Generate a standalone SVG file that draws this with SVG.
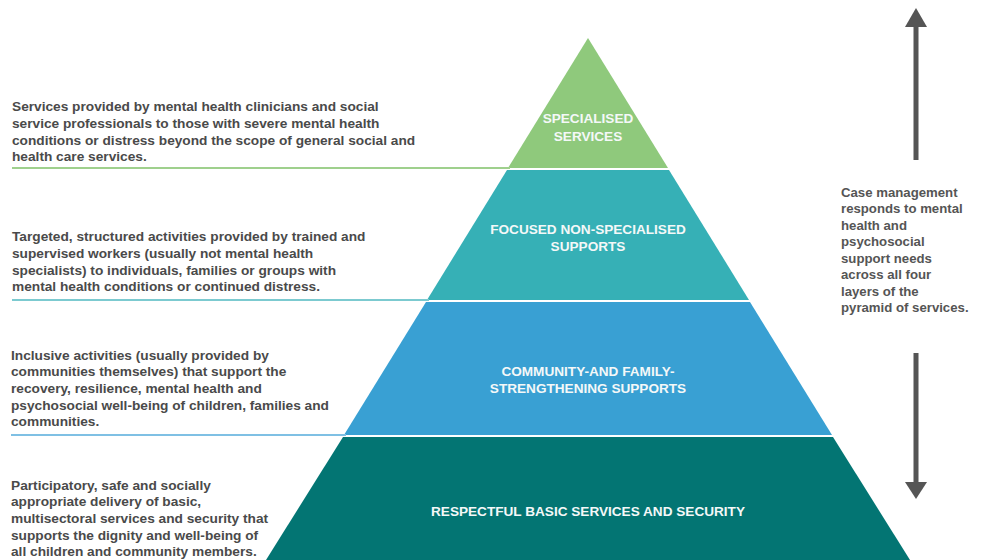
<svg xmlns="http://www.w3.org/2000/svg" width="983" height="560" viewBox="0 0 983 560">
  <style>
    .desc { font-family: "Liberation Sans", Arial, Helvetica, sans-serif; font-weight: bold; font-size: 13.7px; fill: #4a4a4a; }
    .side { font-family: "Liberation Sans", Arial, Helvetica, sans-serif; font-weight: bold; font-size: 13.2px; fill: #555555; }
    .lbl { font-family: "Liberation Sans", Arial, Helvetica, sans-serif; font-weight: bold; font-size: 13.6px; fill: #f4f8f8; text-anchor: middle; }
    .arrow { stroke: #555555; stroke-width: 5; fill: none; }
    .head { fill: #555555; }
  </style>
  <rect width="983" height="560" fill="#ffffff"/>

  <g id="layer-specialised">
    <polygon points="588,38 668,168 508,168" fill="#8fc97c"/>
    <line x1="12" y1="168" x2="510" y2="168" stroke="#9fd08d" stroke-width="2"/>
    <text class="lbl" x="588" y="123">SPECIALISED</text>
    <text class="lbl" x="588" y="141">SERVICES</text>
    <text class="desc" x="12" y="111">Services provided by mental health clinicians and social</text>
    <text class="desc" x="12" y="128">service professionals to those with severe mental health</text>
    <text class="desc" x="12" y="145">conditions or distress beyond the scope of general social and</text>
    <text class="desc" x="12" y="161">health care services.</text>
  </g>

  <g id="layer-focused">
    <polygon points="507,170 669,170 749,300 427,300" fill="#36b0b6"/>
    <line x1="12" y1="300" x2="429" y2="300" stroke="#7ccad0" stroke-width="2"/>
    <text class="lbl" x="588" y="234">FOCUSED NON-SPECIALISED</text>
    <text class="lbl" x="588" y="251">SUPPORTS</text>
    <text class="desc" x="12" y="241">Targeted, structured activities provided by trained and</text>
    <text class="desc" x="12" y="258">supervised workers (usually not mental health</text>
    <text class="desc" x="12" y="275">specialists) to individuals, families or groups with</text>
    <text class="desc" x="12" y="291">mental health conditions or continued distress.</text>
  </g>

  <g id="layer-community">
    <polygon points="426,302 750,302 832,435 344,435" fill="#39a0d3"/>
    <line x1="11" y1="435" x2="346" y2="435" stroke="#7fc0e4" stroke-width="2"/>
    <text class="lbl" x="588" y="376">COMMUNITY-AND FAMILY-</text>
    <text class="lbl" x="588" y="393">STRENGTHENING SUPPORTS</text>
    <text class="desc" x="11" y="359.5">Inclusive activities (usually provided by</text>
    <text class="desc" x="11" y="376">communities themselves) that support the</text>
    <text class="desc" x="11" y="393">recovery, resilience, mental health and</text>
    <text class="desc" x="11" y="409.5">psychosocial well-being of children, families and</text>
    <text class="desc" x="11" y="426">communities.</text>
  </g>

  <g id="layer-basic">
    <polygon points="343,437 833,437 910,560 266,560" fill="#037573"/>
    <text class="lbl" x="588" y="516">RESPECTFUL BASIC SERVICES AND SECURITY</text>
    <text class="desc" x="11" y="489.5">Participatory, safe and socially</text>
    <text class="desc" x="11" y="506">appropriate delivery of basic,</text>
    <text class="desc" x="11" y="523">multisectoral services and security that</text>
    <text class="desc" x="11" y="539.5">supports the dignity and well-being of</text>
    <text class="desc" x="11" y="556">all children and community members.</text>
  </g>

  <g id="case-management">
    <text class="side" x="841" y="196.5">Case management</text>
    <text class="side" x="841" y="213">responds to mental</text>
    <text class="side" x="841" y="229.5">health and</text>
    <text class="side" x="841" y="246">psychosocial</text>
    <text class="side" x="841" y="262.5">support needs</text>
    <text class="side" x="841" y="279">across all four</text>
    <text class="side" x="841" y="295.5">layers of the</text>
    <text class="side" x="841" y="312">pyramid of services.</text>
  </g>

  <g id="connectors">
    <line class="arrow" x1="916" y1="160" x2="916" y2="25"/>
    <polygon class="head" points="916,8 927,27 905,27"/>
    <line class="arrow" x1="916" y1="353" x2="916" y2="484"/>
    <polygon class="head" points="905,482 927,482 916,499"/>
  </g>
</svg>
